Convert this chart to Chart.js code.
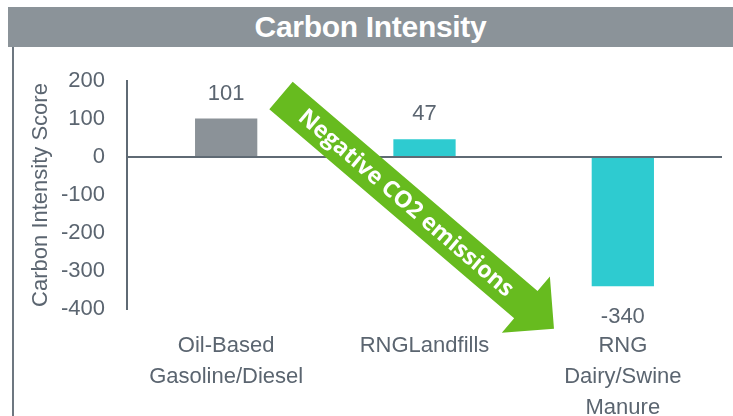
<!DOCTYPE html>
<html lang="en">
<head>
    <meta charset="UTF-8">
    <title>Carbon Intensity</title>
    <script src="https://cdn.jsdelivr.net/npm/chart.js"></script>
    <style>
        html, body { margin: 0; padding: 0; background: #fff; }
        .wrap { position: relative; width: 733px; height: 416px; overflow: hidden; }
        .titulo {
            position: absolute; left: 8px; top: 7px; width: 725px; height: 40px;
            background: #8b9399; color: #fff; text-align: center;
            font: bold 30px "Liberation Sans", Arial, sans-serif; line-height: 40px;
            letter-spacing: -0.3px; z-index: 2;
        }
        .borda { position: absolute; left: 12px; top: 47px; width: 2px; height: 369px; background: #6d7780; z-index: 2; }
        canvas { position: absolute; left: 0; top: 0; }
    </style>
</head>
<body>
    <div class="wrap">
        <div class="titulo">Carbon Intensity</div>
        <div class="borda"></div>
        <canvas id="graficoCanvas" width="733" height="416"></canvas>
    </div>

<script>
    const categorias = [['Oil-Based', 'Gasoline/Diesel'], 'RNGLandfills', ['RNG', 'Dairy/Swine', 'Manure']];
    const valores = [101, 47, -340];
    const cores = ['#8b9298', '#2ecbd0', '#2ecbd0'];
    const yMin = -400;
    const yMax = 200;
    const yPasso = 100;

    const corTexto = '#5b6570';
    const corEixo = '#5f6a74';

    // rotulos de valor em cima / embaixo das barras
    const rotulosPlugin = {
        id: 'rotulos',
        afterDatasetsDraw(chart) {
            const ctx = chart.ctx;
            const meta = chart.getDatasetMeta(0);
            ctx.save();
            ctx.font = '22px "Liberation Sans", Arial, sans-serif';
            ctx.fillStyle = corTexto;
            ctx.textAlign = 'center';
            ctx.textBaseline = 'middle';
            meta.data.forEach((bar, i) => {
                const v = valores[i];
                const y = v >= 0 ? bar.y - 25 : bar.y + 31;
                ctx.fillText(String(v), bar.x, y);
            });
            ctx.restore();
        }
    };

    // seta verde "Negative CO2 emissions"
    const setaPlugin = {
        id: 'seta',
        afterDraw(chart) {
            const ctx = chart.ctx;
            const x0 = 281, y0 = 95.5;
            const ang = 40.5 * Math.PI / 180;
            const comp = 359, cabeca = 37, meiaHaste = 18, meiaCabeca = 37;
            ctx.save();
            ctx.translate(x0, y0);
            ctx.rotate(ang);
            ctx.fillStyle = '#67bb1f';
            ctx.beginPath();
            ctx.moveTo(0, -meiaHaste);
            ctx.lineTo(comp - cabeca, -meiaHaste);
            ctx.lineTo(comp - cabeca, -meiaCabeca);
            ctx.lineTo(comp, 0);
            ctx.lineTo(comp - cabeca, meiaCabeca);
            ctx.lineTo(comp - cabeca, meiaHaste);
            ctx.lineTo(0, meiaHaste);
            ctx.closePath();
            ctx.fill();
            ctx.fillStyle = '#fff';
            ctx.font = 'bold 23px "Open Sans", sans-serif';
            ctx.textAlign = 'center';
            ctx.textBaseline = 'middle';
            ctx.fillText('Negative CO2 emissions', 165, 1);
            ctx.restore();
        }
    };

    const config = {
        type: 'bar',
        data: {
            labels: categorias,
            datasets: [{
                data: valores,
                backgroundColor: cores,
                borderWidth: 0,
                categoryPercentage: 1,
                barPercentage: 0.314
            }]
        },
        options: {
            responsive: false,
            animation: false,
            layout: { padding: { top: 81, right: 11, left: 0, bottom: 0 } },
            plugins: {
                legend: { display: false },
                tooltip: { enabled: false }
            },
            scales: {
                x: {
                    grid: { display: false },
                    border: { display: false },
                    ticks: {
                        color: corTexto,
                        padding: 13,
                        maxRotation: 0,
                        autoSkip: false,
                        font: { family: '"Liberation Sans", Arial, sans-serif', size: 22, lineHeight: 1.41 }
                    },
                    afterFit(scale) { scale.height = 416 - 309; }
                },
                y: {
                    min: yMin,
                    max: yMax,
                    grid: {
                        drawTicks: false,
                        tickLength: 0,
                        lineWidth: 2,
                        color: (c) => (c.tick && c.tick.value === 0 ? corEixo : 'rgba(0,0,0,0)')
                    },
                    border: { display: true, color: corEixo, width: 2 },
                    ticks: {
                        stepSize: yPasso,
                        color: corTexto,
                        padding: 22,
                        font: { family: '"Liberation Sans", Arial, sans-serif', size: 22 }
                    },
                    title: {
                        display: true,
                        text: 'Carbon Intensity Score',
                        color: corTexto,
                        padding: { top: 28, bottom: 0 },
                        font: { family: '"Liberation Sans", Arial, sans-serif', size: 22, lineHeight: 1.2 }
                    },
                    afterFit(scale) { scale.width = 127; }
                }
            }
        },
        plugins: [rotulosPlugin, setaPlugin]
    };

    const grafico = new Chart(document.getElementById('graficoCanvas').getContext('2d'), config);
</script>
</body>
</html>
